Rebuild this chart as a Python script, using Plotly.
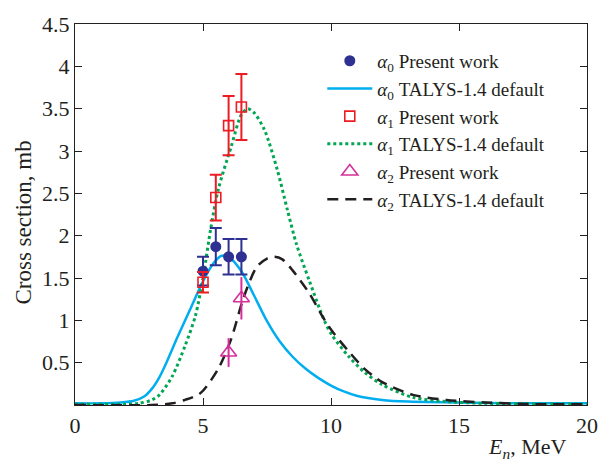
import plotly.graph_objects as go

# Measured partial cross sections (mb) with uncertainties
e_a0 = [5.0, 5.5, 6.0, 6.5]
y_a0 = [1.58, 1.87, 1.75, 1.75]
err_a0 = [0.17, 0.22, 0.21, 0.21]

e_a1 = [5.0, 5.5, 6.0, 6.5]
y_a1 = [1.45, 2.45, 3.30, 3.52]
err_a1 = [0.12, 0.27, 0.35, 0.39]

e_a2 = [6.0, 6.5]
y_a2 = [0.62, 1.26]
err_a2 = [0.17, 0.25]

# TALYS-1.4 default calculations
e_t0 = [0, 1, 1.8, 2.3, 2.7, 3.0, 3.3, 3.6, 4.0, 4.5, 5.0, 5.4, 5.7, 6.0, 6.5,
        7.0, 7.5, 8.0, 8.5, 9.0, 9.5, 10, 10.5, 11, 12, 13, 15, 17, 20]
y_t0 = [0.02, 0.02, 0.03, 0.05, 0.10, 0.19, 0.33, 0.52, 0.80, 1.13, 1.46, 1.67,
        1.76, 1.75, 1.58, 1.29, 0.99, 0.75, 0.57, 0.43, 0.32, 0.23, 0.16, 0.11,
        0.06, 0.04, 0.03, 0.02, 0.02]

e_t1 = [0, 2, 2.5, 3, 3.3, 3.8, 4.3, 4.7, 5, 5.3, 5.6, 6.1, 6.5, 6.75, 7, 7.4,
        7.9, 8.3, 8.65, 9.15, 9.75, 10.05, 10.7, 11.3, 12, 13.2, 14.5, 16, 20]
y_t1 = [0.01, 0.01, 0.02, 0.06, 0.12, 0.34, 0.70, 1.05, 1.50, 2.08, 2.55, 3.05,
        3.43, 3.50, 3.45, 3.25, 2.78, 2.30, 1.90, 1.47, 0.99, 0.82, 0.57,
        0.39, 0.24, 0.09, 0.04, 0.02, 0.01]

e_t2 = [0, 3, 3.8, 4.3, 4.9, 5.6, 6.1, 6.6, 7.1, 7.5, 7.8, 8.1, 8.5, 9.15, 9.7,
        10.05, 10.7, 11.3, 12, 13.2, 14.5, 16, 18, 20]
y_t2 = [0.0, 0.0, 0.02, 0.06, 0.14, 0.43, 0.78, 1.28, 1.63, 1.73, 1.75, 1.72,
        1.59, 1.32, 1.03, 0.87, 0.63, 0.43, 0.27, 0.12, 0.06, 0.03, 0.01, 0.01]

x_ticks = [0, 5, 10, 15, 20]
y_ticks = [0.5, 1, 1.5, 2, 2.5, 3, 3.5, 4, 4.5]
y_ticktext = ["0.5", "1", "1.5", "2", "2.5", "3", "3.5", "4", "4.5"]

CYAN = "#00aeef"
GREEN = "#00a651"
BLACK = "#231f20"
NAVY = "#2e3192"
RED = "#ed1c24"
MAGENTA = "#d62f9b"
FONT = "Liberation Serif"

fig = go.Figure()

# curves first so the data points sit on top
fig.add_trace(go.Scatter(x=e_t0, y=y_t0, mode="lines",
                         line=dict(color=CYAN, width=2.5, shape="spline", smoothing=0.8),
                         name="<i>α</i><sub>0</sub> TALYS-1.4 default", legendrank=2))
fig.add_trace(go.Scatter(x=e_t1, y=y_t1, mode="lines",
                         line=dict(color=GREEN, width=3, dash="dot", shape="spline", smoothing=0.8),
                         name="<i>α</i><sub>1</sub> TALYS-1.4 default", legendrank=4))
fig.add_trace(go.Scatter(x=e_t2, y=y_t2, mode="lines",
                         line=dict(color=BLACK, width=2.5, dash="11px,7px", shape="spline", smoothing=0.8),
                         name="<i>α</i><sub>2</sub> TALYS-1.4 default", legendrank=6))

fig.add_trace(go.Scatter(x=e_a0, y=y_a0, mode="markers",
                         marker=dict(symbol="circle", size=11, color=NAVY),
                         error_y=dict(type="data", array=err_a0, color=NAVY, thickness=2, width=6),
                         name="<i>α</i><sub>0</sub> Present work", legendrank=1))
fig.add_trace(go.Scatter(x=e_a1, y=y_a1, mode="markers",
                         marker=dict(symbol="square-open", size=10, color=RED, line=dict(width=1.6)),
                         error_y=dict(type="data", array=err_a1, color=RED, thickness=2, width=6),
                         name="<i>α</i><sub>1</sub> Present work", legendrank=3))
fig.add_trace(go.Scatter(x=e_a2, y=y_a2, mode="markers",
                         marker=dict(symbol="triangle-up-open", size=14, color=MAGENTA, line=dict(width=1.6)),
                         error_y=dict(type="data", array=err_a2, color=MAGENTA, thickness=2, width=0),
                         name="<i>α</i><sub>2</sub> Present work", legendrank=5))

axis_common = dict(showline=True, linecolor=BLACK, linewidth=1.3, mirror="ticks",
                   ticks="inside", ticklen=7, tickwidth=1.3, tickcolor=BLACK,
                   showgrid=False, zeroline=False,
                   tickfont=dict(family=FONT, size=22, color=BLACK))

fig.update_xaxes(range=[0, 20], tickvals=x_ticks, **axis_common)
fig.update_yaxes(range=[0, 4.5], tickvals=y_ticks, ticktext=y_ticktext, **axis_common)

fig.update_layout(
    width=610, height=461,
    margin=dict(l=75, r=13, t=19, b=56),
    paper_bgcolor="white", plot_bgcolor="white",
    font=dict(family=FONT, color=BLACK),
    legend=dict(x=0.483, y=0.953, xanchor="left", yanchor="top",
                font=dict(family=FONT, size=19, color=BLACK),
                bgcolor="rgba(0,0,0,0)", itemwidth=45, tracegroupgap=0),
    annotations=[
        dict(text="Cross section, mb", textangle=-90, xref="paper", yref="paper",
             x=-0.1015, y=0.479, xanchor="center", yanchor="middle", showarrow=False,
             font=dict(family=FONT, size=23, color=BLACK)),
        dict(text="<i>E<sub>n</sub></i>, MeV", xref="paper", yref="paper",
             x=0.962, y=-0.114, xanchor="right", yanchor="middle", showarrow=False,
             font=dict(family=FONT, size=22, color=BLACK)),
    ],
)

fig.write_html("out.html")
